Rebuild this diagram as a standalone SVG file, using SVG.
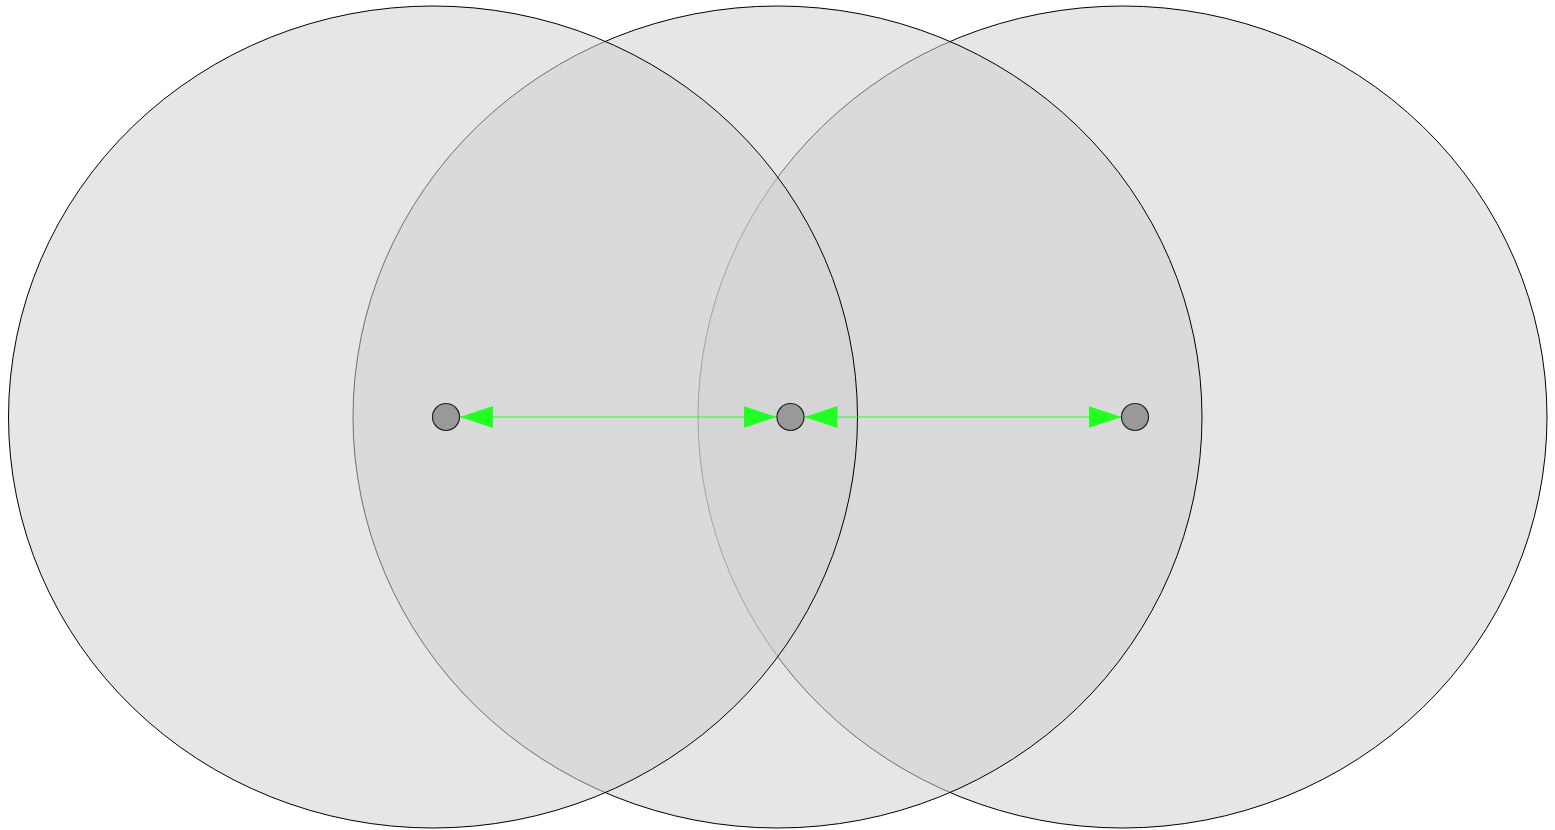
<svg xmlns="http://www.w3.org/2000/svg" width="1555" height="830" viewBox="0 0 1555 830">
<style>
.zone{fill:rgb(207,207,207);fill-opacity:0.53;stroke:#000;stroke-width:1}
.dot{fill:#999;stroke:#222;stroke-width:1.2}
.link{stroke:#22ff22;stroke-width:1;fill:none;marker-start:url(#ah);marker-end:url(#ah)}
</style>
<defs>
<marker id="ah" markerUnits="userSpaceOnUse" markerWidth="34" markerHeight="24" viewBox="0 0 34 24" refX="33" refY="12" orient="auto-start-reverse">
<path d="M0,1 L33,12 L0,23 Z" fill="#22ff22"/>
</marker>
</defs>
<rect width="1555" height="830" fill="#fff"/>
<g id="zone-right"><ellipse class="zone" cx="1122.5" cy="417" rx="424.5" ry="411"/></g>
<g id="zone-middle"><ellipse class="zone" cx="777.5" cy="417" rx="424.5" ry="411"/></g>
<g id="zone-left"><ellipse class="zone" cx="433" cy="417" rx="424.5" ry="411"/></g>
<g id="connectors">
<line class="link" x1="460" y1="417" x2="776.5" y2="417"/>
<line class="link" x1="804.5" y1="417" x2="1121.5" y2="417"/>
</g>
<g id="node-a"><circle class="dot" cx="446" cy="417" r="13.5"/></g>
<g id="node-b"><circle class="dot" cx="790.5" cy="417" r="13.5"/></g>
<g id="node-c"><circle class="dot" cx="1135" cy="417" r="13.5"/></g>
</svg>
